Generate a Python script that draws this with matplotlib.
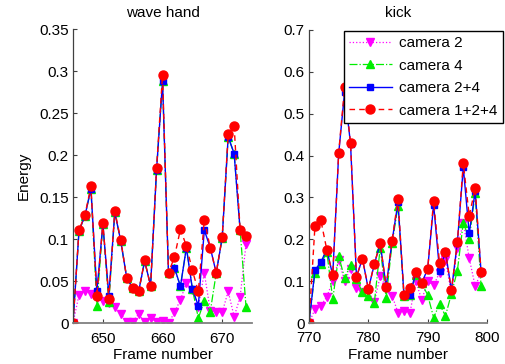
import matplotlib
matplotlib.use('Agg')
import matplotlib.pyplot as plt

plt.rcParams['font.family'] = ['Liberation Sans', 'DejaVu Sans']
plt.rcParams['font.size'] = 10

# wave hand, frames 645-674
wave_frames = list(range(645, 675))
wave_cam2 = [0, 0.034, 0.039, 0.035, 0.030, 0.026, 0.024, 0.020, 0.011, 0.002,
             0.002, 0.011, 0.001, 0.006, 0.002, 0.003, 0.0, 0.013, 0.028, 0.048,
             0.040, 0.020, 0.060, 0.015, 0.014, 0.013, 0.038, 0.008, 0.031, 0.095]
wave_cam4 = [0, 0.110, 0.128, 0.160, 0.021, 0.118, 0.025, 0.132, 0.098, 0.054,
             0.042, 0.038, 0.074, 0.045, 0.183, 0.288, 0.060, 0.066, 0.044, 0.090,
             0.041, 0.006, 0.027, 0.014, 0.060, 0.102, 0.222, 0.202, 0.111, 0.019]
wave_cam24 = [0, 0.110, 0.128, 0.160, 0.038, 0.118, 0.033, 0.132, 0.098, 0.054,
              0.042, 0.038, 0.074, 0.045, 0.183, 0.288, 0.060, 0.066, 0.044, 0.090,
              0.041, 0.021, 0.111, 0.090, 0.060, 0.102, 0.222, 0.202, 0.111, 0.104]
wave_cam124 = [0, 0.111, 0.129, 0.163, 0.032, 0.120, 0.029, 0.134, 0.099, 0.054,
               0.042, 0.038, 0.075, 0.044, 0.185, 0.296, 0.060, 0.079, 0.112, 0.092,
               0.063, 0.038, 0.123, 0.090, 0.060, 0.103, 0.225, 0.235, 0.111, 0.104]

# kick, frames 770-799
kick_frames = list(range(770, 800))
kick_cam2 = [0, 0.033, 0.041, 0.063, 0.100, 0.150, 0.100, 0.130, 0.083, 0.075,
             0.077, 0.050, 0.112, 0.085, 0.065, 0.025, 0.029, 0.023, 0.100, 0.055,
             0.100, 0.090, 0.120, 0.150, 0.070, 0.180, 0.240, 0.155, 0.088, 0.120]
kick_cam4 = [0, 0.120, 0.140, 0.170, 0.057, 0.160, 0.107, 0.139, 0.105, 0.073,
             0.065, 0.047, 0.180, 0.060, 0.190, 0.280, 0.065, 0.068, 0.115, 0.095,
             0.067, 0.013, 0.045, 0.017, 0.070, 0.125, 0.240, 0.200, 0.310, 0.088]
kick_cam24 = [0, 0.126, 0.146, 0.175, 0.114, 0.405, 0.552, 0.428, 0.110, 0.154,
              0.081, 0.140, 0.190, 0.087, 0.196, 0.288, 0.068, 0.068, 0.120, 0.096,
              0.129, 0.283, 0.125, 0.170, 0.078, 0.192, 0.372, 0.214, 0.315, 0.122]
kick_cam124 = [0, 0.231, 0.245, 0.175, 0.114, 0.407, 0.563, 0.430, 0.110, 0.154,
               0.081, 0.141, 0.191, 0.087, 0.197, 0.297, 0.068, 0.084, 0.121, 0.096,
               0.130, 0.292, 0.143, 0.170, 0.078, 0.193, 0.382, 0.256, 0.322, 0.122]

labels = ['camera 2', 'camera 4', 'camera 2+4', 'camera 1+2+4']


def draw(ax, x, c2, c4, c24, c124):
    ax.plot(x, c2, ':', color='#ff00ff', marker='v', ms=5.5, lw=0.9, label=labels[0])
    ax.plot(x, c4, '-.', color='#00ee00', marker='^', ms=5.5, lw=0.9, label=labels[1])
    ax.plot(x, c24, '-', color='#0000ff', marker='s', ms=4.2, lw=1.0, label=labels[2])
    ax.plot(x, c124, '--', color='#ff0000', marker='o', ms=6.5, lw=1.0,
            dashes=(4, 3), label=labels[3])
    for s in ['top', 'right']:
        ax.spines[s].set_visible(False)
    ax.spines['left'].set_color('#404040')
    ax.spines['left'].set_linewidth(0.9)
    ax.spines['bottom'].set_color('#808080')
    ax.spines['bottom'].set_linewidth(1.3)
    ax.tick_params(direction='in', length=3, width=0.8, colors='#404040',
                   labelcolor='black', labelsize=11)
    ax.tick_params(axis='y', pad=3)
    ax.tick_params(axis='x', pad=6)
    ax.set_xlabel('Frame number', fontsize=11, labelpad=2)


fig = plt.figure(figsize=(5.05, 3.64), dpi=100)
ax1 = fig.add_axes([0.1446, 0.1118, 0.3545, 0.8077])
ax2 = fig.add_axes([0.6119, 0.1126, 0.3525, 0.8050])

draw(ax1, wave_frames, wave_cam2, wave_cam4, wave_cam24, wave_cam124)
ax1.set_xlim(645, 675)
ax1.set_ylim(0, 0.35)
ax1.set_xticks([650, 660, 670])
ax1.set_yticks([0, 0.05, 0.1, 0.15, 0.2, 0.25, 0.3, 0.35])
ax1.set_yticklabels(['0', '0.05', '0.1', '0.15', '0.2', '0.25', '0.3', '0.35'])
ax1.set_title('wave hand', fontsize=11, pad=9)
ax1.set_ylabel('Energy', fontsize=11, labelpad=6)

draw(ax2, kick_frames, kick_cam2, kick_cam4, kick_cam24, kick_cam124)
ax2.set_xlim(770, 800)
ax2.set_ylim(0, 0.7)
ax2.set_xticks([770, 780, 790, 800])
ax2.set_yticks([0, 0.1, 0.2, 0.3, 0.4, 0.5, 0.6, 0.7])
ax2.set_yticklabels(['0', '0.1', '0.2', '0.3', '0.4', '0.5', '0.6', '0.7'])
ax2.set_title('kick', fontsize=11, pad=9)

leg = ax2.legend(loc='upper right', bbox_to_anchor=(503 / 505, 1 - 31 / 364),
                 bbox_transform=fig.transFigure, fancybox=False, framealpha=1,
                 edgecolor='black', fontsize=11, handlelength=2.8,
                 labelspacing=0.55, borderpad=0.35, handletextpad=0.5,
                 borderaxespad=0)
leg.get_frame().set_linewidth(1.0)

fig.savefig('out.png', dpi=100)
